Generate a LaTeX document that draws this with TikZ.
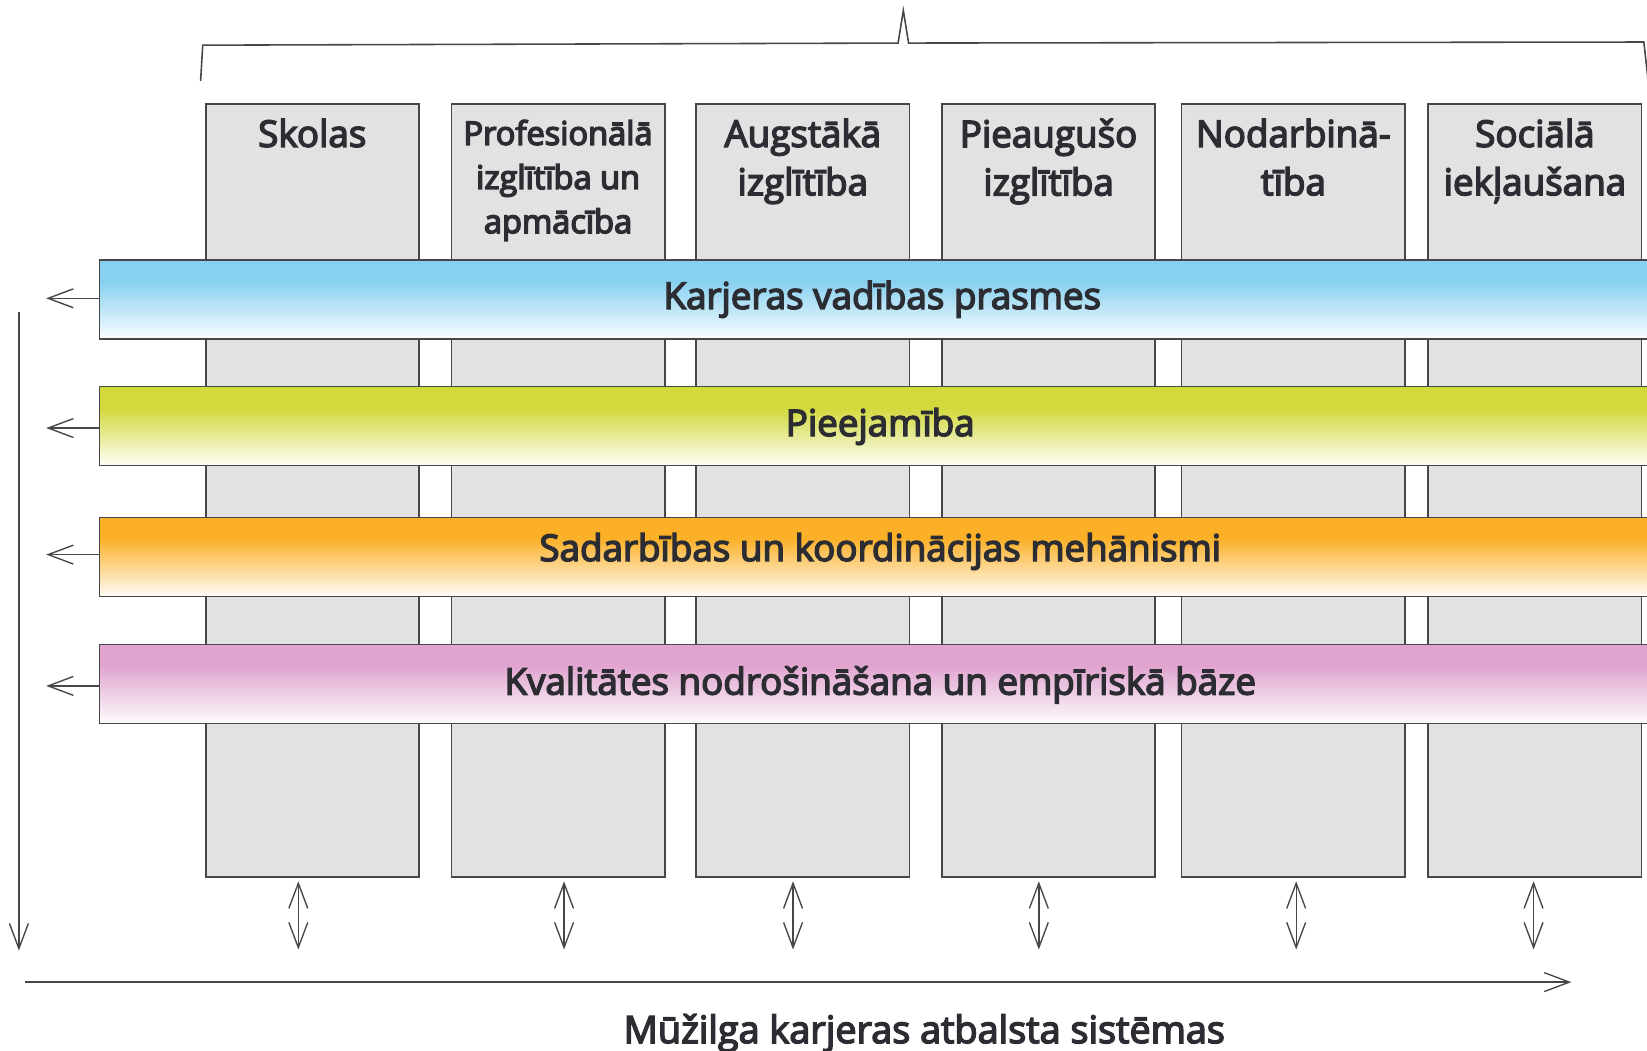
\documentclass[tikz,border=0pt]{standalone}
\usepackage{fontspec}
\setmainfont{Open Sans}
\usetikzlibrary{arrows.meta}
\newcommand{\semibold}{\special{pdf:literal direct 2 Tr 1.4 w}}
\definecolor{txt}{HTML}{2C2D32}
\definecolor{edge}{HTML}{474749}
\definecolor{colfill}{HTML}{E2E2E2}
\definecolor{cblue}{HTML}{86D0F0}
\definecolor{cyellow}{HTML}{D2D93A}
\definecolor{corange}{HTML}{FBB027}
\definecolor{cpink}{HTML}{E0A4CF}
\pgfdeclareverticalshading{shblue}{100bp}{color(0bp)=(cblue!4); color(25bp)=(cblue!4); color(62bp)=(cblue); color(100bp)=(cblue)}
\pgfdeclareverticalshading{shyellow}{100bp}{color(0bp)=(cyellow!4); color(25bp)=(cyellow!4); color(62bp)=(cyellow); color(100bp)=(cyellow)}
\pgfdeclareverticalshading{shorange}{100bp}{color(0bp)=(corange!4); color(25bp)=(corange!4); color(62bp)=(corange); color(100bp)=(corange)}
\pgfdeclareverticalshading{shpink}{100bp}{color(0bp)=(cpink!4); color(25bp)=(cpink!4); color(62bp)=(cpink); color(100bp)=(cpink)}
\tikzset{
  colbox/.style={draw=edge, fill=colfill, line width=1.6pt, minimum width=203pt, minimum height=736pt, anchor=north west, inner sep=0pt},
  collabel/.style={text=txt, align=center, anchor=north, inner sep=0pt, font=\fontsize{35}{46}\selectfont\semibold},
  band/.style={draw=edge, line width=1.4pt, minimum width=1500pt, minimum height=75pt, anchor=north west, inner sep=0pt},
  bandlabel/.style={text=txt, inner sep=0pt, font=\fontsize{35}{40}\selectfont\semibold},
  arr/.style={draw=edge, line width=1.3pt, -{Straight Barb[length=24pt,width=18pt,line width=1.3pt]}},
  darr/.style={draw=edge, line width=1.3pt, {Straight Barb[length=24pt,width=18pt,line width=1.3pt]}-{Straight Barb[length=24pt,width=18pt,line width=1.3pt]}},
}
\begin{document}
\begin{tikzpicture}[x=1pt,y=-1pt]
\useasboundingbox (0,0) rectangle (1568,1000);
% brace
\draw[edge, line width=1.5pt, line join=miter]
  (191,77) -- (193,43) -- (855,41) -- (860,10) -- (865,41) -- (1565,40) -- (1569,76);
% columns
\node[colbox] (c1) at (195,98) {};
\node[colbox] (c2) at (429,98) {};
\node[colbox] (c3) at (662,98) {};
\node[colbox] (c4) at (896,98) {};
\node[colbox, minimum width=213pt] (c5) at (1124,98) {};
\node[colbox] (c6) at (1359,98) {};
\node[collabel] (l1) at ([yshift=-15pt]c1.north) {Skolas};
\node[collabel, font=\fontsize{31}{42}\selectfont\semibold] (l2) at ([yshift=-16pt]c2.north) {Profesionālā\\izglītība un\\apmācība};
\node[collabel] (l3) at ([yshift=-15pt]c3.north) {Augstākā\\izglītība};
\node[collabel] (l4) at ([yshift=-15pt]c4.north) {Pieaugušo\\izglītība};
\node[collabel] (l5) at ([yshift=-15pt]c5.north) {Nodarbinā-\\tība};
\node[collabel] (l6) at ([yshift=-15pt]c6.north) {Sociālā\\iekļaušana};
% bands
\node[band, shading=shblue] (b1) at (94,247) {};
\node[band, shading=shyellow] (b2) at (94,367.5) {};
\node[band, shading=shorange] (b3) at (94,492) {};
\node[band, shading=shpink] (b4) at (94,613) {};
\node[bandlabel] (t1) at (840,285) {Karjeras vadības prasmes};
\node[bandlabel] (t2) at (838,406) {Pieejamība};
\node[bandlabel] (t3) at (838,525) {Sadarbības un koordinācijas mehānismi};
\node[bandlabel] (t4) at (838,652) {Kvalitātes nodrošināšana un empīriskā bāze};
% left arrows
\coordinate (e1) at (44,284);
\coordinate (e2) at (44,407.5);
\coordinate (e3) at (44,528);
\coordinate (e4) at (44,653);
\draw[arr] (b1.west |- e1) -- (e1);
\draw[arr] (b2.west |- e2) -- (e2);
\draw[arr] (b3.west |- e3) -- (e3);
\draw[arr] (b4.west |- e4) -- (e4);
% vertical arrow
\coordinate (vtop) at (18,297);
\coordinate (vbot) at (18,905);
\draw[arr] (vtop) -- (vbot);
% double arrows
\foreach \i/\x in {1/284,2/537,3/755,4/989,5/1234,6/1460}{
  \coordinate (u\i) at (\x,839);
  \coordinate (d\i) at (\x,904);
  \draw[darr] (u\i) -- (d\i);
}
% horizontal axis
\coordinate (hl) at (24,935);
\coordinate (hr) at (1496,935);
\draw[arr] (hl) -- (hr);
\node[text=txt, inner sep=0pt, anchor=base, font=\fontsize{36}{40}\selectfont\semibold] (ax) at (880,993) {Mūžilga karjeras atbalsta sistēmas};
\end{tikzpicture}
\end{document}
